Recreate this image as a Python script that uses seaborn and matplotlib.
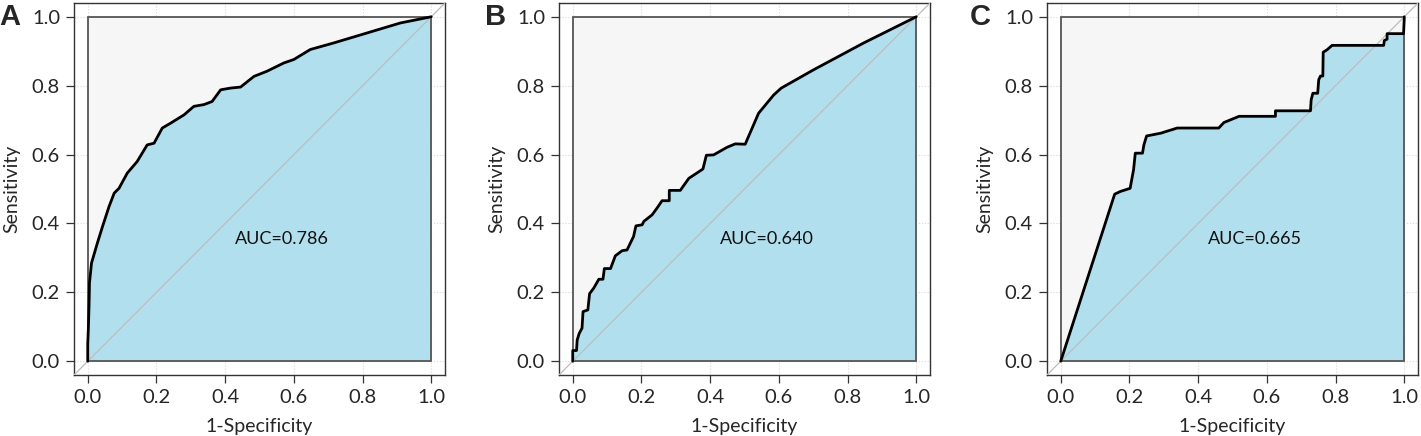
import matplotlib
matplotlib.use("Agg")
import matplotlib.pyplot as plt
import seaborn as sns
import pandas as pd
from matplotlib.patches import Rectangle

# ROC curve points (1-specificity, sensitivity)
fpr_a = [0.0, 0.0, 0.002, 0.004, 0.005, 0.011, 0.028, 0.043, 0.062, 0.077, 0.091,
         0.115, 0.144, 0.173, 0.193, 0.217, 0.241, 0.280, 0.309, 0.338, 0.362,
         0.387, 0.416, 0.445, 0.484, 0.522, 0.571, 0.600, 0.648, 0.716, 0.813,
         0.910, 1.0]
tpr_a = [0.0, 0.05, 0.10, 0.17, 0.227, 0.285, 0.343, 0.391, 0.449, 0.488, 0.502,
         0.546, 0.580, 0.628, 0.633, 0.677, 0.691, 0.715, 0.740, 0.745, 0.754,
         0.788, 0.793, 0.796, 0.827, 0.842, 0.866, 0.876, 0.905, 0.924, 0.953,
         0.982, 1.0]

fpr_b = [0.0, 0.0, 0.011, 0.013, 0.019, 0.027, 0.030, 0.044, 0.049, 0.061, 0.076,
         0.088, 0.092, 0.110, 0.124, 0.144, 0.158, 0.177, 0.184, 0.202, 0.207,
         0.231, 0.245, 0.260, 0.281, 0.281, 0.313, 0.338, 0.379, 0.389, 0.410,
         0.449, 0.473, 0.502, 0.541, 0.585, 0.607, 0.701, 0.847, 1.0]
tpr_b = [0.0, 0.031, 0.031, 0.062, 0.081, 0.096, 0.144, 0.149, 0.196, 0.212, 0.238,
         0.238, 0.269, 0.269, 0.306, 0.321, 0.323, 0.362, 0.393, 0.396, 0.406,
         0.425, 0.444, 0.466, 0.466, 0.496, 0.496, 0.531, 0.558, 0.598, 0.599,
         0.621, 0.631, 0.630, 0.720, 0.773, 0.793, 0.846, 0.924, 1.0]

fpr_c = [0.0, 0.157, 0.174, 0.202, 0.212, 0.217, 0.238, 0.242, 0.250, 0.291, 0.339,
         0.460, 0.475, 0.519, 0.625, 0.625, 0.727, 0.729, 0.734, 0.748, 0.751,
         0.756, 0.763, 0.764, 0.775, 0.790, 0.940, 0.942, 0.950, 0.950, 0.998,
         1.0, 1.0]
tpr_c = [0.0, 0.485, 0.493, 0.502, 0.556, 0.604, 0.604, 0.628, 0.654, 0.662, 0.677,
         0.677, 0.693, 0.711, 0.711, 0.727, 0.727, 0.759, 0.778, 0.778, 0.817,
         0.828, 0.828, 0.897, 0.904, 0.917, 0.917, 0.931, 0.935, 0.951, 0.951,
         0.996, 1.0]

panel_labels = ["A", "B", "C"]
auc_labels = ["AUC=0.786", "AUC=0.640", "AUC=0.665"]
ticks = [0.0, 0.2, 0.4, 0.6, 0.8, 1.0]
tick_labels = ["0.0", "0.2", "0.4", "0.6", "0.8", "1.0"]

curves = [(fpr_a, tpr_a), (fpr_b, tpr_b), (fpr_c, tpr_c)]

sns.set_style("white")
plt.rcParams["font.family"] = ["Lato", "DejaVu Sans"]

fig = plt.figure(figsize=(14.21, 4.36), dpi=100)
lefts = [74 / 1421, 559 / 1421, 1047 / 1421]
label_x = [-1 / 1421, 485 / 1421, 970 / 1421]

for i, (fpr, tpr) in enumerate(curves):
    ax = fig.add_axes([lefts[i], 61 / 436, 371 / 1421, 372 / 436])
    df = pd.DataFrame({"fpr": fpr, "tpr": tpr})

    ax.set_xlim(-0.04, 1.04)
    ax.set_ylim(-0.04, 1.04)

    # dotted grid, mostly hidden behind the inner box
    ax.grid(True, linestyle=":", color="#d8d8d8", linewidth=0.8, zorder=0)

    # light grey background for the full ROC space
    ax.add_patch(Rectangle((0, 0), 1, 1, facecolor="#f6f6f6", edgecolor="none", zorder=1))
    ax.fill_between(df["fpr"], 0, df["tpr"], color="#b2dfee", linewidth=0, zorder=2)
    ax.add_patch(Rectangle((0, 0), 1, 1, facecolor="none", edgecolor="#555555",
                           linewidth=1.3, zorder=3))

    # chance line
    ax.axline((0, 0), (1, 1), color="#bdbdbd", linewidth=0.9, zorder=3)

    sns.lineplot(data=df, x="fpr", y="tpr", sort=False, estimator=None,
                 color="black", linewidth=2.0, ax=ax, zorder=4)

    ax.text(0.565, 0.355, auc_labels[i], ha="center", va="center",
            fontsize=13, color="#111111", zorder=5)

    ax.set_xticks(ticks)
    ax.set_xticklabels(tick_labels)
    ax.set_yticks(ticks)
    ax.set_yticklabels(tick_labels)
    ax.tick_params(axis="both", direction="out", length=6, width=0.9,
                   color="#333333", labelsize=14.5, pad=4, left=True, bottom=True)
    ax.set_xlabel("1-Specificity", fontsize=14, labelpad=9)
    ax.set_ylabel("Sensitivity", fontsize=14, labelpad=8)
    for sp in ax.spines.values():
        sp.set_visible(True)
        sp.set_color("#333333")
        sp.set_linewidth(1.0)

    fig.text(label_x[i], 0.943, panel_labels[i], fontsize=21, fontweight="bold",
             family=["Liberation Sans", "DejaVu Sans"], ha="left", va="baseline")

fig.savefig("out.png", dpi=100)
